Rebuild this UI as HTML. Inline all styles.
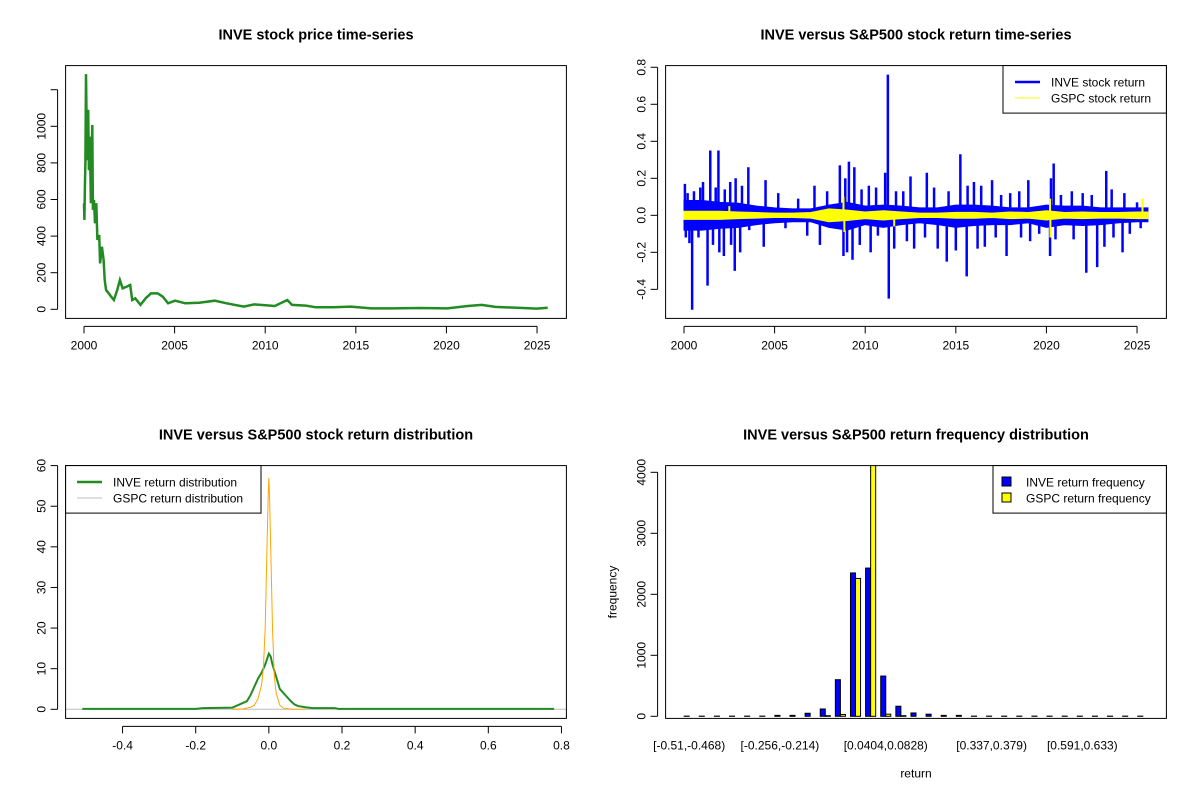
<!DOCTYPE html>
<html><head><meta charset="utf-8"><style>
html,body{margin:0;padding:0;background:#fff;}
svg{display:block;font-family:"Liberation Sans",Arial,sans-serif;}
</style></head>
<body>
<svg id="fig" width="1200" height="800" viewBox="0 0 1200 800" xmlns="http://www.w3.org/2000/svg">
<rect x="0" y="0" width="1200" height="800" fill="#fff"/>
<defs>
<clipPath id="c1"><rect x="65.6" y="65.6" width="500.8" height="252.8"/></clipPath>
<clipPath id="c2"><rect x="665.6" y="65.6" width="500.8" height="252.8"/></clipPath>
<clipPath id="c3"><rect x="65.6" y="465.6" width="500.8" height="252.8"/></clipPath>
<clipPath id="c4"><rect x="665.6" y="465.6" width="500.8" height="252.8"/></clipPath>
</defs>
<g id="root"></g>
</svg>
<script>
// ---- Panel 1: price series ----
const priceYears=[2000.00,2000.02,2000.05,2000.08,2000.11,2000.17,2000.23,2000.27,2000.32,2000.38,2000.46,2000.49,2000.55,2000.61,2000.68,2000.74,2000.84,2000.89,2000.99,2001.08,2001.14,2001.22,2001.37,2001.50,2001.65,2001.83,2001.98,2002.13,2002.36,2002.55,2002.66,2002.83,2003.12,2003.40,2003.69,2004.07,2004.35,2004.64,2005.02,2005.59,2006.35,2007.21,2007.87,2008.82,2009.39,2010.53,2011.22,2011.48,2012.24,2012.81,2013.76,2014.71,2015.86,2017.00,2018.52,2020.04,2021.18,2021.94,2022.70,2024.22,2024.98,2025.59];
const priceValues=[579,488,670,800,1285,815,1090,760,943,580,1007,543,597,470,580,379,406,251,342,270,160,105,87,69,51,105,160,115,124,133,51,60,24,60,87,87,69,33,47,33,36,47,33,15,27,18,51,24,20,11,11,15,5,5,7,5,18,24,13,7,4,9];
const yearTicks=[2000,2005,2010,2015,2020,2025];
const priceTicks=[0,200,400,600,800,1000,1200];
const priceTickLabels=["0","200","400","600","800","1000",""];
// ---- Panel 2: returns ----
const bandYears=[2000,2001,2002,2003,2004,2005,2006,2007,2008,2009,2010,2011,2012,2013,2014,2015,2016,2017,2018,2019,2020,2021,2022,2023,2024,2025,2025.6];
const bandHi=[0.08,0.08,0.07,0.065,0.05,0.04,0.035,0.035,0.055,0.07,0.05,0.055,0.05,0.04,0.04,0.055,0.055,0.05,0.04,0.04,0.055,0.05,0.05,0.04,0.04,0.04,0.04];
const bandLo=[-0.08,-0.08,-0.07,-0.065,-0.05,-0.04,-0.035,-0.035,-0.065,-0.08,-0.05,-0.065,-0.05,-0.04,-0.05,-0.065,-0.055,-0.05,-0.05,-0.04,-0.065,-0.05,-0.055,-0.05,-0.04,-0.035,-0.035];
const spikeYears=[2000.05,2000.1,2000.2,2000.3,2000.45,2000.55,2000.8,2000.9,2001.05,2001.3,2001.45,2001.6,2001.75,2001.9,2001.95,2002.2,2002.25,2002.55,2002.6,2002.8,2002.85,2003.1,2003.2,2003.55,2003.6,2004.4,2004.5,2005.2,2005.6,2006.3,2006.8,2007.2,2007.5,2007.9,2008.6,2008.8,2008.9,2009.0,2009.1,2009.3,2009.4,2009.7,2009.8,2010.2,2010.3,2010.6,2010.7,2011.1,2011.25,2011.3,2011.6,2011.7,2012.1,2012.3,2012.5,2012.7,2013.3,2013.4,2013.8,2014.0,2014.5,2014.6,2015.0,2015.25,2015.6,2015.65,2016.0,2016.2,2016.4,2016.6,2017.0,2017.2,2017.5,2017.8,2018.0,2018.5,2018.6,2019.0,2019.1,2019.6,2020.2,2020.25,2020.4,2020.5,2020.8,2021.4,2021.5,2022.0,2022.2,2022.5,2022.8,2023.2,2023.3,2023.6,2023.7,2024.2,2024.3,2024.6,2025.0,2025.2];
const spikeValues=[0.17,-0.12,0.12,-0.15,-0.51,0.13,-0.12,0.15,0.18,-0.38,0.35,-0.16,0.15,0.35,-0.2,-0.22,0.14,0.18,-0.16,-0.3,0.2,-0.2,0.16,0.26,-0.08,-0.17,0.19,0.12,-0.07,0.09,-0.11,0.16,-0.16,0.13,0.27,-0.22,0.2,-0.2,0.29,-0.24,0.26,-0.16,0.14,0.16,-0.2,0.15,-0.11,0.23,0.76,-0.45,-0.18,0.13,0.13,-0.14,0.21,-0.18,-0.12,0.23,0.15,-0.18,-0.25,0.13,-0.19,0.33,-0.33,0.16,0.18,-0.18,0.16,-0.17,0.19,-0.12,0.11,-0.22,0.12,0.13,-0.12,0.19,-0.14,-0.1,-0.22,0.2,0.28,-0.13,0.11,0.13,-0.13,0.12,-0.31,0.11,-0.28,-0.17,0.24,0.14,-0.12,-0.2,0.12,-0.1,0.07,-0.07];
const gBandHi=[0.022,0.022,0.022,0.018,0.015,0.012,0.012,0.015,0.035,0.028,0.018,0.025,0.018,0.012,0.012,0.016,0.016,0.012,0.018,0.015,0.025,0.015,0.018,0.015,0.015,0.018,0.018];
const gBandLo=[-0.022,-0.022,-0.022,-0.018,-0.015,-0.012,-0.012,-0.015,-0.035,-0.028,-0.018,-0.025,-0.018,-0.012,-0.012,-0.016,-0.016,-0.012,-0.018,-0.015,-0.025,-0.015,-0.018,-0.015,-0.015,-0.018,-0.018];
const gSpikeYears=[2002.5,2008.8,2008.85,2011.6,2020.2,2020.22,2025.3];
const gSpikeValues=[0.05,0.1,-0.09,-0.06,0.09,-0.12,0.09];
const retTicks=[-0.4,-0.2,0,0.2,0.4,0.6,0.8];
const retTickLabels=["-0.4","-0.2","0.0","0.2","0.4","0.6","0.8"];
// ---- Panel 3: densities ----
const inveDensX=[-0.51,-0.2,-0.18,-0.1,-0.08,-0.06,-0.05,-0.04,-0.03,-0.02,-0.01,0,0.005,0.01,0.02,0.03,0.04,0.05,0.06,0.07,0.08,0.1,0.12,0.18,0.19,0.78];
const inveDensY=[0.1,0.1,0.3,0.4,1.2,2,3.5,5.5,7.5,9,11,13.7,13,11,8,5,4,3,2,1.2,0.8,0.5,0.3,0.3,0.1,0.1];
const gspcDensX=[-0.1,-0.07,-0.05,-0.04,-0.03,-0.02,-0.015,-0.01,-0.005,-0.002,0,0.002,0.005,0.01,0.015,0.02,0.03,0.04,0.06,0.1];
const gspcDensY=[0,0.1,0.5,1,2.5,6,10,20,40,52,57,52,40,20,8,4,1,0.3,0.05,0];
const densXTicks=[-0.4,-0.2,0,0.2,0.4,0.6,0.8];
const densXTickLabels=["-0.4","-0.2","0.0","0.2","0.4","0.6","0.8"];
const densYTicks=[0,10,20,30,40,50,60];
// ---- Panel 4: frequency barplot ----
const inveFreq=[3,3,3,3,3,3,15,15,50,120,600,2350,2430,660,165,55,35,15,15,3,3,3,3,3,3,3,3,3,3,3,3];
const gspcFreq=[0,0,0,0,0,0,0,0,0,10,30,2260,4300,35,10,0,0,0,0,0,0,0,0,0,0,0,0,0,0,0,0];
const binLabels=["[-0.51,-0.468)","[-0.256,-0.214)","[0.0404,0.0828)","[0.337,0.379)","[0.591,0.633)"];
const binLabelIdx=[0,6,13,20,26];
const freqTicks=[0,1000,2000,3000,4000];

const NS="http://www.w3.org/2000/svg";
const root=document.getElementById('root');
function el(tag,attrs,parent){const e=document.createElementNS(NS,tag);for(const k in attrs)e.setAttribute(k,attrs[k]);(parent||root).appendChild(e);return e;}
function txt(s,attrs,parent){const e=el('text',attrs,parent);e.textContent=s;return e;}
function scale(d0,d1,p0,p1){return v=>p0+(v-d0)*(p1-p0)/(d1-d0);}
function panel(px,py){return {L:px+65.6,R:px+566.4,T:py+65.6,B:py+318.4};}
function box(p,name){const r=el('rect',{x:p.L,y:p.T,width:p.R-p.L,height:p.B-p.T,fill:'none',stroke:'#000','stroke-width':1});

}
function title(p,s,name){const t=txt(s,{x:(p.L+p.R)/2,y:p.T-26,'text-anchor':'middle','font-size':'14.5','font-weight':'bold'});

}
function xAxis(p,sx,ticks,labels,name){const g=el('g',{});


el('line',{x1:sx(ticks[0]),x2:sx(ticks[ticks.length-1]),y1:p.B+8,y2:p.B+8,stroke:'#000'},g);
ticks.forEach((t,i)=>{el('line',{x1:sx(t),x2:sx(t),y1:p.B+8,y2:p.B+15,stroke:'#000'},g);
const lb=txt(labels[i],{x:sx(t),y:p.B+31,'text-anchor':'middle','font-size':'12'},g);

});}
function yAxis(p,sy,ticks,labels,name){const g=el('g',{});


el('line',{x1:p.L-8,x2:p.L-8,y1:sy(ticks[0]),y2:sy(ticks[ticks.length-1]),stroke:'#000'},g);
ticks.forEach((t,i)=>{el('line',{x1:p.L-15,x2:p.L-8,y1:sy(t),y2:sy(t),stroke:'#000'},g);
if(labels[i]){const lb=txt(labels[i],{x:0,y:0,'text-anchor':'middle','font-size':'12',transform:`translate(${p.L-20},${sy(t)}) rotate(-90)`},g);

}});}

// ===== Panel 1 =====
{const p=panel(0,0);const sx=scale(1998.985,2026.62,p.L,p.R);const sy=scale(-49.7,1331.7,p.B,p.T);
title(p,'INVE stock price time-series','price-chart-title');
const pts=priceYears.map((y,i)=>sx(y).toFixed(1)+','+sy(priceValues[i]).toFixed(1)).join(' ');
const l=el('polyline',{points:pts,fill:'none',stroke:'#228B22','stroke-width':2.5,'clip-path':'url(#c1)'});


box(p,'price-plot-box');
xAxis(p,sx,yearTicks,yearTicks.map(String),'price-x-axis');
yAxis(p,sy,priceTicks,priceTickLabels,'price-y-axis');}

// ===== Panel 2 =====
{const p=panel(600,0);const sx=scale(1998.985,2026.62,p.L,p.R);const sy=scale(-0.557,0.809,p.B,p.T);
title(p,'INVE versus S&P500 stock return time-series','return-series-title');
const g=el('g',{'clip-path':'url(#c2)'});
const band=bandYears.map((y,i)=>sx(y)+','+sy(bandHi[i])).concat(bandYears.map((y,i)=>sx(y)+','+sy(bandLo[i])).reverse()).join(' ');
const b=el('polygon',{points:band,fill:'#0000FF',stroke:'#0000FF','stroke-width':1},g);


spikeYears.forEach((y,i)=>{const s=el('line',{x1:sx(y),x2:sx(y),y1:sy(0),y2:sy(spikeValues[i]),stroke:'#0000FF','stroke-width':2.5},g);

});
const gb=bandYears.map((y,i)=>sx(y)+','+sy(gBandHi[i])).concat(bandYears.map((y,i)=>sx(y)+','+sy(gBandLo[i])).reverse()).join(' ');
const b2=el('polygon',{points:gb,fill:'#FFFF00',stroke:'#FFFF00','stroke-width':1},g);


gSpikeYears.forEach((y,i)=>{const s=el('line',{x1:sx(y),x2:sx(y),y1:sy(0),y2:sy(gSpikeValues[i]),stroke:'#FFFF00','stroke-width':2},g);

});
box(p,'return-plot-box');
xAxis(p,sx,yearTicks,yearTicks.map(String),'return-x-axis');
yAxis(p,sy,retTicks,retTickLabels,'return-y-axis');
const lg=el('g',{});


el('rect',{x:1003,y:65.6,width:163.4,height:47.5,fill:'#fff',stroke:'#000'},lg);
el('line',{x1:1015,x2:1040,y1:82,y2:82,stroke:'#0000FF','stroke-width':2.5},lg);
el('line',{x1:1015,x2:1040,y1:98,y2:98,stroke:'#FFFF00','stroke-width':1},lg);
txt('INVE stock return',{x:1051,y:86.5,'font-size':'12'},lg);
txt('GSPC stock return',{x:1051,y:102.5,'font-size':'12'},lg);}

// ===== Panel 3 =====
{const p=panel(0,400);const sx=scale(-0.5557,0.8135,p.L,p.R);const sy=scale(-2.24,60,p.B,p.T);
title(p,'INVE versus S&P500 stock return distribution','density-chart-title');
const g=el('g',{'clip-path':'url(#c3)'});
el('line',{x1:p.L,x2:p.R,y1:sy(0),y2:sy(0),stroke:'#BEBEBE'},g);
const l1=el('polyline',{points:inveDensX.map((x,i)=>sx(x)+','+sy(inveDensY[i])).join(' '),fill:'none',stroke:'#228B22','stroke-width':2},g);


const l2=el('polyline',{points:gspcDensX.map((x,i)=>sx(x)+','+sy(gspcDensY[i])).join(' '),fill:'none',stroke:'#FFA500','stroke-width':1},g);


box(p,'density-plot-box');
xAxis(p,sx,densXTicks,densXTickLabels,'density-x-axis');
yAxis(p,sy,densYTicks,densYTicks.map(String),'density-y-axis');
const lg=el('g',{});


el('rect',{x:65.6,y:465.6,width:195.4,height:47.5,fill:'#fff',stroke:'#000'},lg);
el('line',{x1:77,x2:102,y1:482,y2:482,stroke:'#228B22','stroke-width':2.5},lg);
el('line',{x1:77,x2:102,y1:498,y2:498,stroke:'#BEBEBE','stroke-width':1},lg);
txt('INVE return distribution',{x:113,y:486.5,'font-size':'12'},lg);
txt('GSPC return distribution',{x:113,y:502.5,'font-size':'12'},lg);}

// ===== Panel 4 =====
{const p=panel(600,400);const sx=scale(-2.68,96.68,p.L,p.R);const sy=scale(-34.4,4110,p.B,p.T);
title(p,'INVE versus S&P500 return frequency distribution','frequency-chart-title');
const g=el('g',{'clip-path':'url(#c4)'});
inveFreq.forEach((v,i)=>{const r=el('rect',{x:sx(3*i+1),y:sy(v),width:sx(3*i+2)-sx(3*i+1),height:sy(0)-sy(v),fill:'#0000FF',stroke:'#000','stroke-width':1},g);

});
gspcFreq.forEach((v,i)=>{const r=el('rect',{x:sx(3*i+2),y:sy(v),width:sx(3*i+3)-sx(3*i+2),height:sy(0)-sy(v),fill:'#FFFF00',stroke:'#000','stroke-width':1},g);

});
box(p,'frequency-plot-box');
yAxis(p,sy,freqTicks,freqTicks.map(String),'frequency-y-axis');
binLabelIdx.forEach((k,i)=>{const t=txt(binLabels[i],{x:sx(3*k+2),y:p.B+31,'text-anchor':'middle','font-size':'12'});

});
const xt=txt('return',{x:(p.L+p.R)/2,y:p.B+59,'text-anchor':'middle','font-size':'12'});


const yt=txt('frequency',{x:0,y:0,'text-anchor':'middle','font-size':'12',transform:`translate(${p.L-49},${(p.T+p.B)/2}) rotate(-90)`});


const lg=el('g',{});


el('rect',{x:993,y:465.6,width:173.4,height:47.5,fill:'#fff',stroke:'#000'},lg);
el('rect',{x:1002,y:477,width:9,height:9,fill:'#0000FF',stroke:'#000'},lg);
el('rect',{x:1002,y:493,width:9,height:9,fill:'#FFFF00',stroke:'#000'},lg);
txt('INVE return frequency',{x:1026,y:486.5,'font-size':'12'},lg);
txt('GSPC return frequency',{x:1026,y:502.5,'font-size':'12'},lg);}
</script>
</body></html>
